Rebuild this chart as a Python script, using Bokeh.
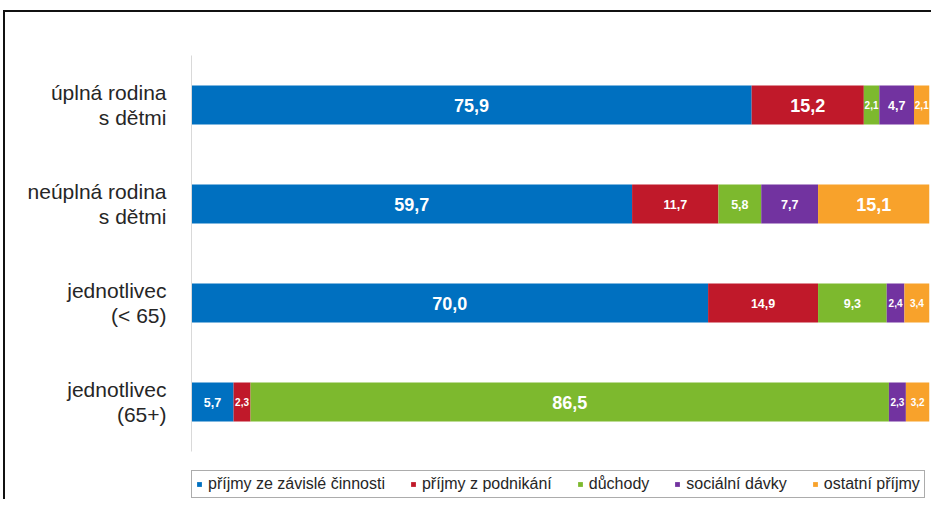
from bokeh.plotting import figure
from bokeh.models import ColumnDataSource, Range1d, Legend, LegendItem, FixedTicker
from bokeh.embed import file_html
from bokeh.resources import INLINE
from bokeh.core.properties import value

categories = ["úplná rodina\ns dětmi", "neúplná rodina\ns dětmi",
              "jednotlivec\n(< 65)", "jednotlivec\n(65+)"]
series_names = ["příjmy ze závislé činnosti", "příjmy z podnikání",
                "důchody", "sociální dávky", "ostatní příjmy"]
prijmy_zavisle = [75.9, 59.7, 70.0, 5.7]
prijmy_podnikani = [15.2, 11.7, 14.9, 2.3]
duchody = [2.1, 5.8, 9.3, 86.5]
socialni_davky = [4.7, 7.7, 2.4, 2.3]
ostatni_prijmy = [2.1, 15.1, 3.4, 3.2]

series_values = [prijmy_zavisle, prijmy_podnikani, duchody, socialni_davky, ostatni_prijmy]
colors = ["#0070C0", "#C0192A", "#7DB92E", "#7233A0", "#F8A22B"]
FONT = "Liberation Sans"

n = len(categories)
ypos = [n - 1 - i for i in range(n)]          # first category on top
keys = ["s%d" % i for i in range(len(series_names))]
data = {"y": ypos}
for k, vals in zip(keys, series_values):
    data[k] = vals
source = ColumnDataSource(data)

W, H = 931, 499
TOP, LEFT, RIGHT = 55, 191, 2
ROW_PX = 99.0
top_val = n - 0.5
bottom_val = top_val - (H - TOP) / ROW_PX

p = figure(x_range=Range1d(0, 100), y_range=Range1d(bottom_val, top_val),
           width=W, height=H, output_backend="svg", toolbar_location=None,
           min_border_left=LEFT, min_border_right=RIGHT, min_border_top=TOP, min_border_bottom=0)
p.border_fill_color = None
p.background_fill_color = "white"
p.styles = {"background": ("linear-gradient(#111111, #111111) 3px 10px / 2px calc(100% - 10px) no-repeat, "
                           "linear-gradient(#111111, #111111) 3px 10px / calc(100% - 3px) 2px no-repeat, "
                           "#ffffff")}

renderers = p.hbar_stack(keys, y="y", height=0.394, color=colors, source=source,
                         line_color=None)

groups = {"18px": ([], [], []), "12.5px": ([], [], []), "10px": ([], [], [])}
for i, yv in enumerate(ypos):
    left = 0.0
    for vals in series_values:
        v = vals[i]
        size = "18px" if v >= 15 else ("10px" if v < 4 else "12.5px")
        gx, gy, gt = groups[size]
        gx.append(left + v / 2)
        gy.append(yv)
        gt.append(f"{v:.1f}".replace(".", ","))
        left += v
for size, (gx, gy, gt) in groups.items():
    p.text(x=gx, y=gy, text=gt, text_font_size=size,
           text_align="center", text_baseline="middle", text_color="white",
           text_font=value(FONT), text_font_style="bold")

p.xaxis.visible = False
p.grid.visible = False
p.outline_line_color = None
yax = p.yaxis[0]
yax.ticker = FixedTicker(ticks=ypos, minor_ticks=[])
yax.major_label_overrides = {yv: cat for yv, cat in zip(ypos, categories)}
yax.bounds = (-0.5, n - 0.5)
yax.axis_line_color = "#d9d9d9"
yax.major_tick_line_color = None
yax.minor_tick_line_color = None
yax.major_label_text_font = FONT
yax.major_label_text_font_size = "21px"
yax.major_label_text_color = "#262626"
yax.major_label_text_line_height = 1.1
yax.major_label_standoff = 19

legend = Legend(items=[LegendItem(label=s, renderers=[r]) for s, r in zip(series_names, renderers)],
                orientation="horizontal", location=(0, 1),
                border_line_color="#595959", border_line_width=1,
                label_text_font=FONT, label_text_font_size="16px", label_text_color="#262626",
                glyph_width=6, glyph_height=6, label_standoff=6, spacing=25, padding=4)
p.add_layout(legend, "center")

open("out.html", "w").write(file_html(p, INLINE))
